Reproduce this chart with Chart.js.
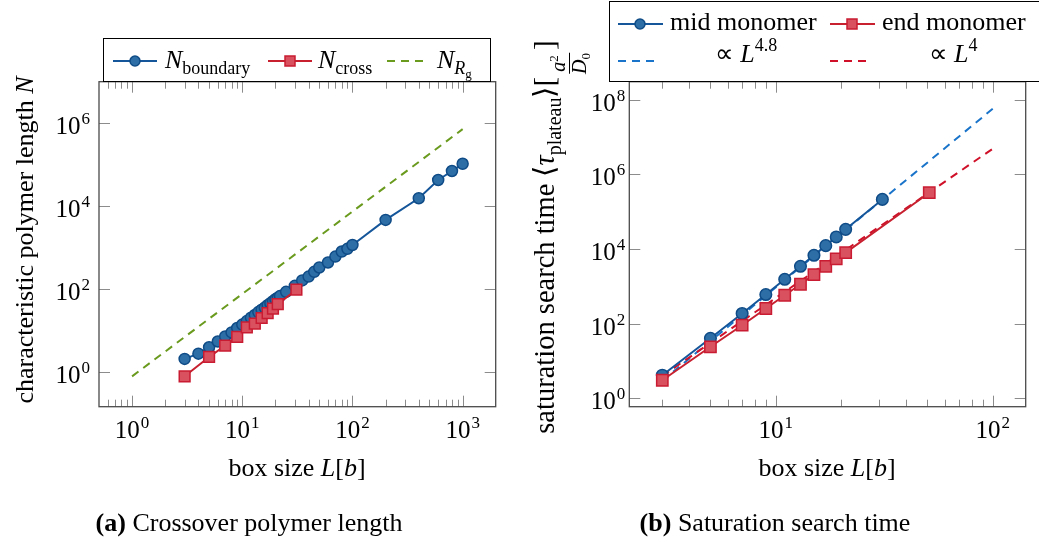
<!DOCTYPE html>
<html><head><meta charset="utf-8">
<script src="https://cdn.jsdelivr.net/npm/chart.js@4.4.1/dist/chart.umd.min.js"></script>
<style>
html,body{margin:0;padding:0;background:#fff;}
body{width:1039px;height:542px;position:relative;overflow:hidden;font-family:"Liberation Serif",serif;}
canvas{position:absolute;top:0;}
.t{position:absolute;font-family:"Liberation Serif",serif;font-size:26px;line-height:26px;white-space:nowrap;color:#000;z-index:5;}
.sb{font-size:18px;position:relative;top:6px;line-height:0;}
.sb2{font-size:13px;position:relative;top:4px;line-height:0;}
.sp{font-size:18px;position:relative;top:-11px;line-height:0;}
.box{position:absolute;border:1.2px solid #000;background:#fff;z-index:3;box-sizing:border-box;}
svg{position:absolute;left:0;top:0;z-index:4;}
.frac{display:inline-flex;flex-direction:column;align-items:center;font-size:20px;line-height:19px;vertical-align:-11px;margin:0 3px;}
.frac .num{border-bottom:1px solid #000;padding:0 2px 1px 2px;}
.big{font-size:29px;}
</style>
</head>
<body>
<canvas id="cA" width="520" height="542" style="left:0"></canvas>
<canvas id="cB" width="519" height="542" style="left:520px"></canvas>

<!-- legends -->
<div class="box" style="left:103px;top:38px;width:388px;height:44px;"></div>
<div class="box" style="left:609px;top:1px;width:440px;height:81px;"></div>
<svg width="1039" height="542">
  <line x1="113" y1="61" x2="157" y2="61" stroke="#15569a" stroke-width="2"/>
  <circle cx="135" cy="61" r="5" fill="#2e6ea6" stroke="#0f4c87" stroke-width="1.5"/>
  <line x1="268" y1="61" x2="312" y2="61" stroke="#c8202f" stroke-width="2"/>
  <rect x="285" y="56" width="10" height="10" fill="#d9505f" stroke="#c91c32" stroke-width="1.5"/>
  <line x1="387" y1="61" x2="425" y2="61" stroke="#6a9a1e" stroke-width="2" stroke-dasharray="8,6"/>

  <line x1="618" y1="24" x2="663" y2="24" stroke="#15569a" stroke-width="2"/>
  <circle cx="640" cy="24" r="5" fill="#2e6ea6" stroke="#0f4c87" stroke-width="1.5"/>
  <line x1="830" y1="24" x2="875" y2="24" stroke="#c8202f" stroke-width="2"/>
  <rect x="847" y="19" width="10" height="10" fill="#d9505f" stroke="#c91c32" stroke-width="1.5"/>
  <line x1="618" y1="61" x2="660" y2="61" stroke="#1a74c9" stroke-width="2" stroke-dasharray="8,6"/>
  <line x1="830" y1="61" x2="870" y2="61" stroke="#cf1028" stroke-width="2" stroke-dasharray="8,6"/>
</svg>
<div class="t" style="left:165px;top:46.5px;"><i>N</i><span class="sb">boundary</span></div>
<div class="t" style="left:318px;top:46.5px;"><i>N</i><span class="sb">cross</span></div>
<div class="t" style="left:437px;top:46.5px;"><i>N</i><span class="sb"><i>R</i><span class="sb2">g</span></span></div>

<div class="t" style="left:670px;top:9.2px;">mid monomer</div>
<div class="t" style="left:882px;top:9.2px;">end monomer</div>
<div class="t" style="left:646px;width:200px;text-align:center;top:41.2px;">∝ <i>L</i><span class="sp">4.8</span></div>
<div class="t" style="left:853px;width:200px;text-align:center;top:41.2px;">∝ <i>L</i><span class="sp">4</span></div>

<!-- axis titles -->
<div class="t" style="left:97px;width:400px;text-align:center;top:455px;">box size <i>L</i>[<i>b</i>]</div>
<div class="t" style="left:627px;width:400px;text-align:center;top:455px;">box size <i>L</i>[<i>b</i>]</div>
<div class="t" style="left:24.5px;top:240px;height:26px;transform:translate(-50%,-50%) rotate(-90deg);">characteristic polymer length <i>N</i></div>
<div class="t" style="left:543.5px;top:237px;height:28px;font-size:28.5px;line-height:28px;transform:translate(-50%,-50%) rotate(-90deg);">saturation search time ⟨<i>τ</i><span class="sb" style="font-size:20px;top:7px;">plateau</span>⟩<span class="big">[</span><span class="frac"><span class="num"><i>a</i><span style="font-size:13px;position:relative;top:-7px;line-height:0">2</span></span><span class="den"><i>D</i><span style="font-size:13px;position:relative;top:4px;line-height:0">0</span></span></span><span class="big">]</span></div>

<!-- captions -->
<div class="t" style="left:49px;width:400px;text-align:center;top:510px;"><b>(a)</b> Crossover polymer length</div>
<div class="t" style="left:575px;width:400px;text-align:center;top:510px;"><b>(b)</b> Saturation search time</div>

<script>
// ---------- data (a) ----------
const L_boundary = [3,4,5,6,7,8,9,10,11,12,13,14,15,16,17,18,19,20,21,22,25,30,35,40,45,50,60,70,80,90,100,200,400,600,800,1000];
const N_boundary = [2.1,2.8,4.0,5.5,7.3,9.1,11.6,14,17,20.5,24,28,32,36,41,46,51,57,62,68,86,120,162,200,260,331,437,605,800,930,1150,4600,15300,42000,69000,103000];
const L_cross = [3,5,7,9,11,13,15,17,19,21,31];
const N_cross = [0.8,2.34,4.37,7.1,12.0,14.8,20.2,26.6,33.8,43.6,96.6];
const L_Rg = [1,1000];
const N_Rg = [0.8,7.0e5];
// ---------- data (b) ----------
const L_mid = [3,5,7,9,11,13,15,17,19,21,31];
const tau_mid = [4.1,40,186,600,1540,3430,6770,12300,21000,33700,214000];
const L_end = [3,5,7,9,11,13,15,17,19,21,51];
const tau_end = [3.0,23.7,90,253,573,1130,2050,3430,5400,8000,324000];
const L_fit48 = [3,100];
const tau_fit48 = [2.9,5.8e7];
const L_fit4 = [3,100];
const tau_fit4 = [3.9,4.9e6];
// ---------- tick labels (exponents of 10) ----------
const xTickExpA = [0,1,2,3];
const yTickExpA = [0,2,4,6];
const xTickExpB = [1,2];
const yTickExpB = [0,2,4,6,8];

const pts = (xs, ys) => xs.map((x,i)=>({x, y: ys[i]}));
const FONT = '"Liberation Serif", serif';

function drawPow(ctx, exp, x, yBase, align){
  ctx.fillStyle = '#000';
  ctx.textBaseline = 'alphabetic';
  ctx.textAlign = 'left';
  ctx.font = '25px ' + FONT;
  const wb = ctx.measureText('10').width;
  ctx.font = '17px ' + FONT;
  const ws = ctx.measureText(String(exp)).width;
  const w = wb + 1 + ws;
  const x0 = align === 'center' ? x - w/2 : x - w;
  ctx.font = '25px ' + FONT;
  ctx.fillText('10', x0, yBase);
  ctx.font = '17px ' + FONT;
  ctx.fillText(String(exp), x0 + wb + 1, yBase - 10);
}

const pgfAxes = {
  id: 'pgfAxes',
  afterDraw(chart, args, o){
    const ctx = chart.ctx;
    const {left, right, top, bottom} = chart.chartArea;
    const xs = chart.scales.x, ys = chart.scales.y;
    ctx.save();
    ctx.strokeStyle = '#8c8c8c';
    ctx.lineWidth = 1;
    const ln = (x1,y1,x2,y2)=>{ctx.beginPath();ctx.moveTo(x1,y1);ctx.lineTo(x2,y2);ctx.stroke();};
    const dmin = Math.floor(Math.log10(xs.min)), dmax = Math.ceil(Math.log10(xs.max));
    for (let d = dmin; d <= dmax; d++){
      for (let k = 1; k <= 9; k++){
        const v = k * Math.pow(10, d);
        if (v < xs.min || v > xs.max) continue;
        const px = Math.round(xs.getPixelForValue(v)) + 0.5;
        const len = k === 1 ? 11 : 7;
        ln(px, bottom, px, bottom - len);
        ln(px, top, px, top + len);
      }
    }
    o.yExp.forEach(e=>{
      const py = Math.round(ys.getPixelForValue(Math.pow(10,e))) + 0.5;
      ln(left, py, left + 11, py);
      ln(right, py, right - 11, py);
    });
    ctx.strokeStyle = '#4a4a4a';
    ctx.lineWidth = 1.3;
    ctx.strokeRect(left, top, right - left, bottom - top);
    o.xExp.forEach(e=>{
      drawPow(ctx, e, xs.getPixelForValue(Math.pow(10,e)), bottom + 31.5, 'center');
    });
    o.yExp.forEach(e=>{
      drawPow(ctx, e, left - o.yGap, ys.getPixelForValue(Math.pow(10,e)) + 11, 'right');
    });
    ctx.restore();
  }
};

const common = (pad, xr, yr, xExp, yExp, yGap) => ({
  responsive: false,
  animation: false,
  devicePixelRatio: 1,
  layout: {padding: pad},
  scales: {
    x: {type:'logarithmic', min: xr[0], max: xr[1], display: false},
    y: {type:'logarithmic', min: yr[0], max: yr[1], display: false}
  },
  plugins: {legend:{display:false}, tooltip:{enabled:false}, pgfAxes:{xExp, yExp, yGap}},
  elements: {line:{tension:0}}
});

const blueLine = '#15569a', blueFill = '#2e6ea6', blueEdge = '#0f4c87';
const redLine = '#c8202f', redFill = '#d9505f', redEdge = '#c91c32';

new Chart(document.getElementById('cA'), {
  type: 'scatter',
  data: {datasets: [
    {label:'N_Rg', data: pts(L_Rg, N_Rg), showLine:true, borderColor:'#6a9a1e', borderWidth:2, borderDash:[8,6], pointRadius:0, order:3},
    {label:'N_boundary', data: pts(L_boundary, N_boundary), showLine:true, borderColor:blueLine, borderWidth:2,
      pointStyle:'circle', pointRadius:5.5, pointBackgroundColor:blueFill, pointBorderColor:blueEdge, pointBorderWidth:1.5, order:2},
    {label:'N_cross', data: pts(L_cross, N_cross), showLine:true, borderColor:redLine, borderWidth:2,
      pointStyle:'rect', pointRadius:7.6, pointBackgroundColor:redFill, pointBorderColor:redEdge, pointBorderWidth:1.5, order:1}
  ]},
  options: common({left:99, top:81.7, right:24.3, bottom:135.3}, [Math.pow(10,-0.3), Math.pow(10,3.3)], [Math.pow(10,-0.827), Math.pow(10,6.986)], xTickExpA, yTickExpA, 9),
  plugins: [pgfAxes]
});

new Chart(document.getElementById('cB'), {
  type: 'scatter',
  data: {datasets: [
    {label:'fit48', data: pts(L_fit48, tau_fit48), showLine:true, borderColor:'#1a74c9', borderWidth:2, borderDash:[8,6], pointRadius:0, order:4},
    {label:'fit4', data: pts(L_fit4, tau_fit4), showLine:true, borderColor:'#cf1028', borderWidth:2, borderDash:[8,6], pointRadius:0, order:3},
    {label:'mid monomer', data: pts(L_mid, tau_mid), showLine:true, borderColor:blueLine, borderWidth:2,
      pointStyle:'circle', pointRadius:5.8, pointBackgroundColor:blueFill, pointBorderColor:blueEdge, pointBorderWidth:1.5, order:2},
    {label:'end monomer', data: pts(L_end, tau_end), showLine:true, borderColor:redLine, borderWidth:2,
      pointStyle:'rect', pointRadius:8, pointBackgroundColor:redFill, pointBorderColor:redEdge, pointBorderWidth:1.5, order:1}
  ]},
  options: common({left:109.3, top:81.7, right:13.3, bottom:135.3}, [Math.pow(10,0.325), Math.pow(10,2.152)], [Math.pow(10,-0.233), Math.pow(10,8.49)], xTickExpB, yTickExpB, 4),
  plugins: [pgfAxes]
});
</script>
</body></html>
